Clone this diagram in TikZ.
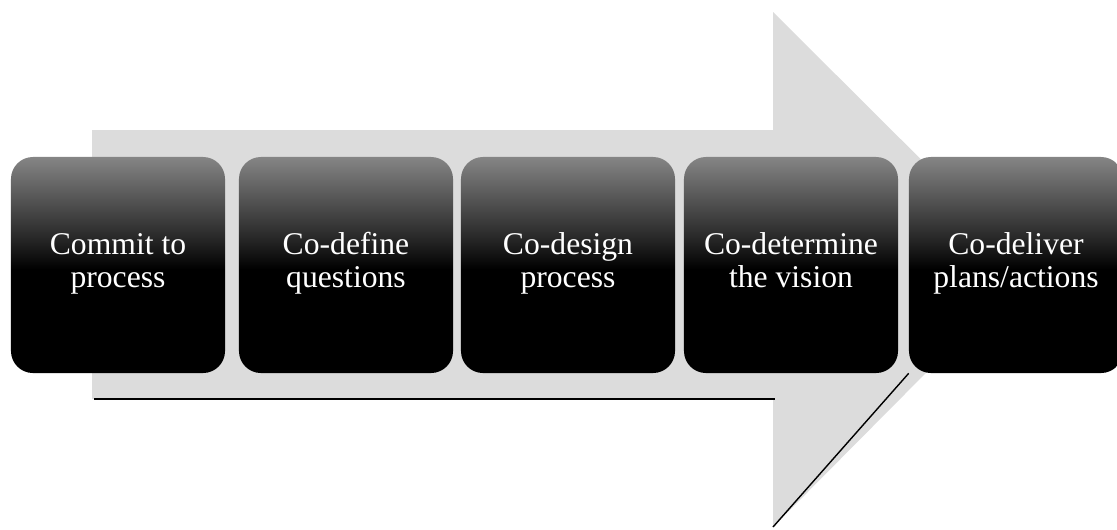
\documentclass[tikz,border=0pt]{standalone}
\usepackage{fontspec}
\setmainfont{Liberation Serif}
\usetikzlibrary{positioning}
\definecolor{arrowgrey}{HTML}{DCDCDC}
\definecolor{boxtop}{HTML}{858585}
\pgfdeclareverticalshading{stageshade}{100bp}{color(0bp)=(black); color(49bp)=(black);
    color(56bp)=(black!85); color(75bp)=(boxtop); color(100bp)=(boxtop)}

\begin{document}
\begin{tikzpicture}[
    x=0.025cm, y=-0.025cm,
    every node/.style={font=\fontsize{22.5}{23}\selectfont},
    stage/.style={rectangle, rounded corners=0.55cm, minimum width=5.35cm, minimum height=5.4cm,
        shading=stageshade, text=white, align=center, inner sep=0pt,
        text height=2.05cm, text depth=0.95cm},
    edge/.style={line width=1.4pt, color=black}
]
\useasboundingbox (0,0) rectangle (1117,529);

% Background arrow
\fill[arrowgrey] (92,130) -- (773,130) -- (773,12) -- (1030,268) -- (773,527)
    -- (773,399) -- (92,399) -- cycle;
\coordinate (bodyL) at (94,399);
\coordinate (bodyR) at (775,399);
\coordinate (headB) at (773,527);

% Stages
\node[stage] (s1) at (118,265)  {Commit to\\process};
\node[stage] (s2) at (346,265)  {Co-define\\questions};
\node[stage] (s3) at (568,265)  {Co-design\\process};
\node[stage] (s4) at (791,265)  {Co-determine\\the vision};
\node[stage] (s5) at (1016,265) {Co-deliver\\plans/actions};

% Arrow edges
\draw[edge] (bodyL) -- (bodyR);
\draw[edge, line width=1pt] (headB) -- (s5.south west);
\end{tikzpicture}
\end{document}
